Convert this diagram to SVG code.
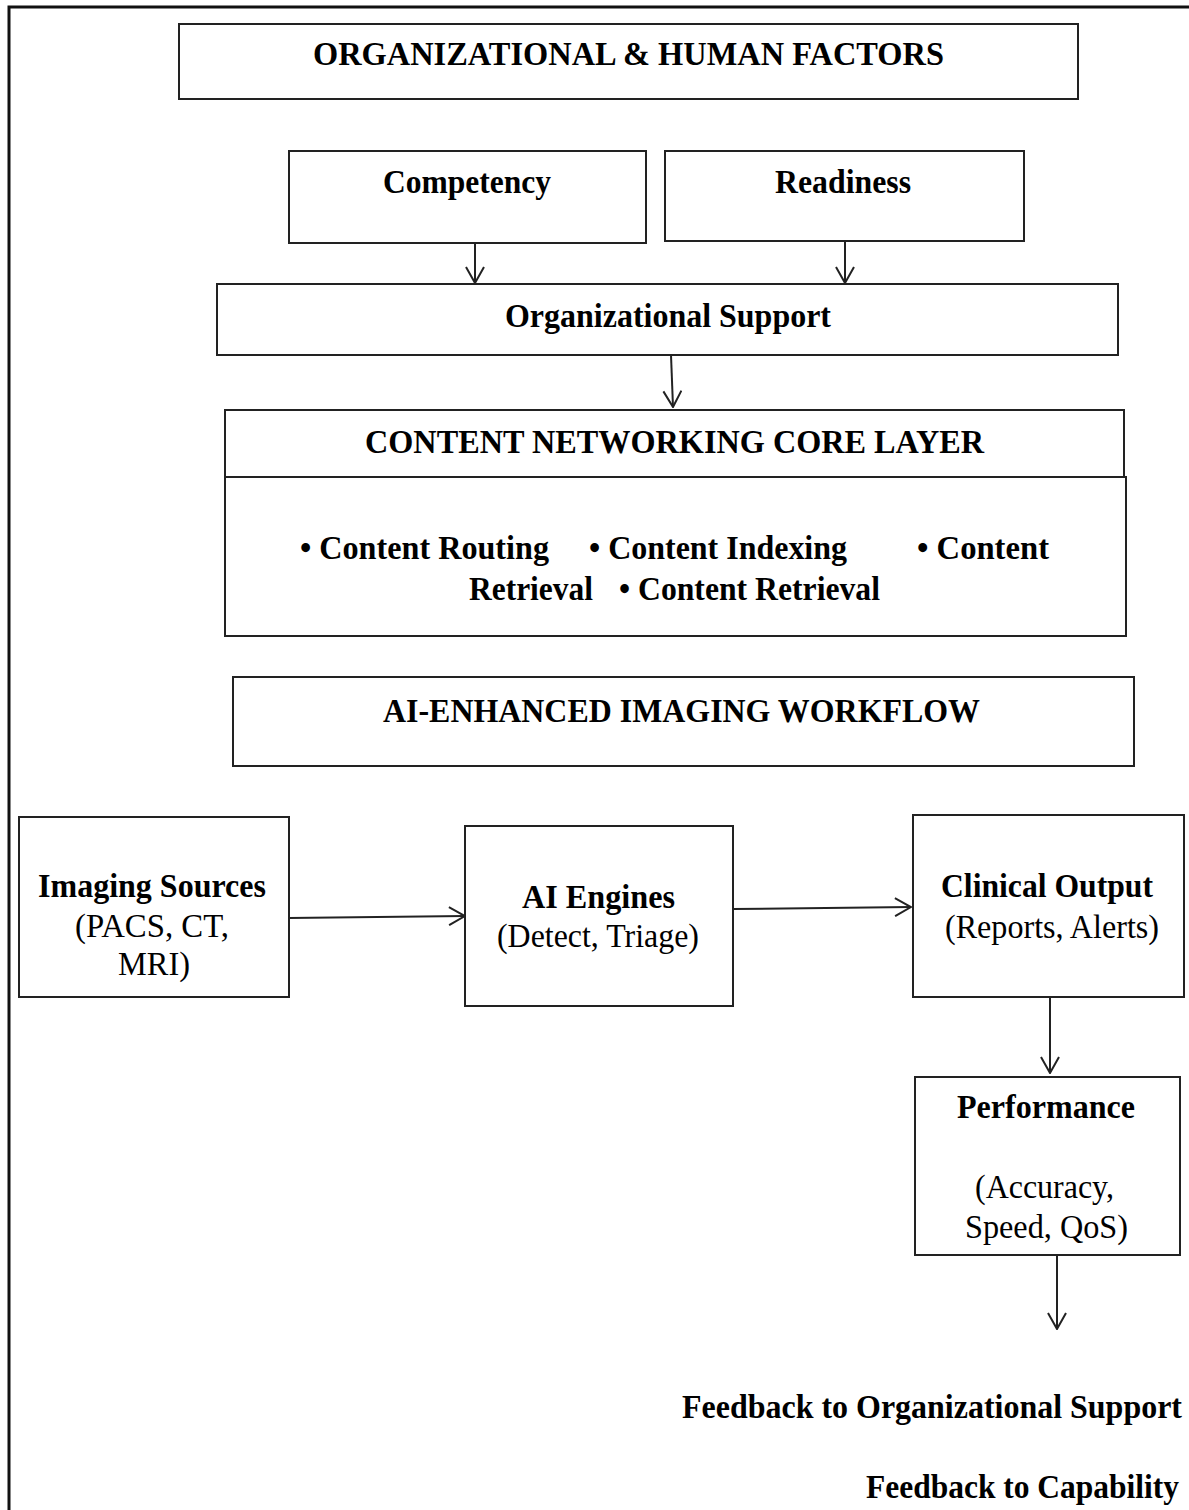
<svg xmlns="http://www.w3.org/2000/svg" width="1189" height="1510" viewBox="0 0 1189 1510">
  <style>
    .box { fill: #ffffff; stroke: #222222; stroke-width: 2; }
    .frame { fill: none; stroke: #111111; stroke-width: 3; }
    .t { font-family: "Liberation Serif", "Times New Roman", serif; font-size: 33px; fill: #000000; }
    .b { font-weight: bold; }
    .link { fill: none; stroke: #222222; stroke-width: 2; }
  </style>
  <defs>
    <marker id="head" viewBox="0 0 18 20" refX="17" refY="10" markerWidth="18" markerHeight="20" markerUnits="userSpaceOnUse" orient="auto">
      <path d="M1,1 L17,10 L1,19" fill="none" stroke="#222222" stroke-width="2"/>
    </marker>
  </defs>

  <rect width="1189" height="1510" fill="#ffffff"/>
  <rect class="frame" x="9" y="7" width="1200" height="1520"/>

  <g id="org-human-factors">
    <rect class="box" x="179" y="24" width="899" height="75"/>
    <text class="t b" x="313" y="65" textLength="631" lengthAdjust="spacingAndGlyphs">ORGANIZATIONAL &amp; HUMAN FACTORS</text>
  </g>

  <g id="competency">
    <rect class="box" x="289" y="151" width="357" height="92"/>
    <text class="t b" x="383" y="193" textLength="168" lengthAdjust="spacingAndGlyphs">Competency</text>
  </g>

  <g id="readiness">
    <rect class="box" x="665" y="151" width="359" height="90"/>
    <text class="t b" x="775" y="193" textLength="136" lengthAdjust="spacingAndGlyphs">Readiness</text>
  </g>

  <g id="organizational-support">
    <rect class="box" x="217" y="284" width="901" height="71"/>
    <text class="t b" x="505" y="327" textLength="326" lengthAdjust="spacingAndGlyphs">Organizational Support</text>
  </g>

  <g id="content-core-layer">
    <rect class="box" x="225" y="410" width="899" height="67"/>
    <text class="t b" x="365" y="453" textLength="619" lengthAdjust="spacingAndGlyphs">CONTENT NETWORKING CORE LAYER</text>
    <rect class="box" x="225" y="477" width="901" height="159"/>
    <text class="t b" x="300" y="559" textLength="249" lengthAdjust="spacingAndGlyphs">• Content Routing</text>
    <text class="t b" x="589" y="559" textLength="258" lengthAdjust="spacingAndGlyphs">• Content Indexing</text>
    <text class="t b" x="917" y="559" textLength="132" lengthAdjust="spacingAndGlyphs">• Content</text>
    <text class="t b" x="469" y="600" textLength="124" lengthAdjust="spacingAndGlyphs">Retrieval</text>
    <text class="t b" x="619" y="600" textLength="261" lengthAdjust="spacingAndGlyphs">• Content Retrieval</text>
  </g>

  <g id="ai-imaging-workflow">
    <rect class="box" x="233" y="677" width="901" height="89"/>
    <text class="t b" x="383" y="722" textLength="597" lengthAdjust="spacingAndGlyphs">AI-ENHANCED IMAGING WORKFLOW</text>
  </g>

  <g id="imaging-sources">
    <rect class="box" x="19" y="817" width="270" height="180"/>
    <text class="t b" x="38" y="897" textLength="228" lengthAdjust="spacingAndGlyphs">Imaging Sources</text>
    <text class="t" x="75" y="937" textLength="154" lengthAdjust="spacingAndGlyphs">(PACS, CT,</text>
    <text class="t" x="118" y="975" textLength="72" lengthAdjust="spacingAndGlyphs">MRI)</text>
  </g>

  <g id="ai-engines">
    <rect class="box" x="465" y="826" width="268" height="180"/>
    <text class="t b" x="522" y="908" textLength="153" lengthAdjust="spacingAndGlyphs">AI Engines</text>
    <text class="t" x="497" y="947" textLength="202" lengthAdjust="spacingAndGlyphs">(Detect, Triage)</text>
  </g>

  <g id="clinical-output">
    <rect class="box" x="913" y="815" width="271" height="182"/>
    <text class="t b" x="941" y="897" textLength="212" lengthAdjust="spacingAndGlyphs">Clinical Output</text>
    <text class="t" x="945" y="938" textLength="214" lengthAdjust="spacingAndGlyphs">(Reports, Alerts)</text>
  </g>

  <g id="performance">
    <rect class="box" x="915" y="1077" width="265" height="178"/>
    <text class="t b" x="957" y="1118" textLength="178" lengthAdjust="spacingAndGlyphs">Performance</text>
    <text class="t" x="975" y="1198" textLength="139" lengthAdjust="spacingAndGlyphs">(Accuracy,</text>
    <text class="t" x="965" y="1238" textLength="163" lengthAdjust="spacingAndGlyphs">Speed, QoS)</text>
  </g>

  <g id="feedback-labels">
    <text class="t b" x="682" y="1418" textLength="500" lengthAdjust="spacingAndGlyphs">Feedback to Organizational Support</text>
    <text class="t b" x="866" y="1498" textLength="313" lengthAdjust="spacingAndGlyphs">Feedback to Capability</text>
  </g>

  <g id="connectors">
    <line class="link" x1="475" y1="243" x2="475" y2="283" marker-end="url(#head)"/>
    <line class="link" x1="845" y1="241" x2="845" y2="283" marker-end="url(#head)"/>
    <line class="link" x1="671" y1="355" x2="673" y2="407" marker-end="url(#head)"/>
    <line class="link" x1="289" y1="918" x2="465" y2="916" marker-end="url(#head)"/>
    <line class="link" x1="733" y1="909" x2="911" y2="907" marker-end="url(#head)"/>
    <line class="link" x1="1050" y1="997" x2="1050" y2="1073" marker-end="url(#head)"/>
    <line class="link" x1="1057" y1="1255" x2="1057" y2="1329" marker-end="url(#head)"/>
  </g>
</svg>
